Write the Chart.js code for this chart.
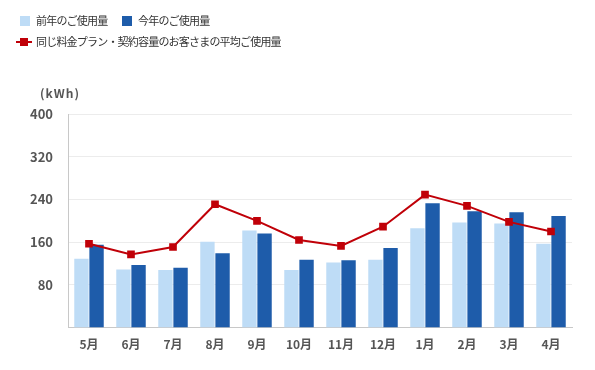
<!DOCTYPE html>
<html>
<head>
<meta charset="utf-8">
<script src="https://cdn.jsdelivr.net/npm/chart.js@4"></script>
<style>
  body { margin: 0; background: #fff; font-family: "Noto Sans CJK JP", sans-serif; }
  #wrap { position: relative; width: 595px; height: 370px; }
  #legend { position: absolute; left: 0; top: 0; font-size: 11px; color: #333; letter-spacing: -0.8px; }
  .item { position: absolute; white-space: nowrap; line-height: 12px; }
  .box { display: inline-block; width: 10px; height: 10px; vertical-align: -1px; margin-right: 6px; }
  .ln { display: inline-block; position: relative; width: 16px; height: 10px; vertical-align: -1px; margin-right: 4px; }
  .ln i { position: absolute; left: 0; right: 0; top: 4px; height: 2px; }
  .ln b { position: absolute; left: 4px; top: 1px; width: 8px; height: 8px; }
</style>
</head>
<body>
<div id="wrap">
  <canvas id="myChart" width="595" height="370"></canvas>
  <div id="legend"></div>
</div>
<script>
// data
var months = ["5月", "6月", "7月", "8月", "9月", "10月", "11月", "12月", "1月", "2月", "3月", "4月"];
var lastYear = [129, 109, 108, 161, 182, 108, 122, 127, 186, 197, 195, 157];
var thisYear = [155, 117, 112, 139, 176, 127, 126, 149, 233, 218, 216, 209];
var average = [157, 137, 151, 231, 200, 164, 153, 189, 249, 228, 198, 180];
var yTicks = [80, 160, 240, 320, 400];

var labelLast = "前年のご使用量";
var labelThis = "今年のご使用量";
var labelAvg = "同じ料金プラン・契約容量のお客さまの平均ご使用量";

var colLast = "#bedcf6";
var colThis = "#1e5caa";
var colAvg = "#c00008";

// legend
var legend = document.getElementById("legend");
legend.innerHTML =
  '<div class="item" style="left:20px;top:14px"><span class="box" style="background:' + colLast + '"></span>' + labelLast + '</div>' +
  '<div class="item" style="left:122px;top:14px"><span class="box" style="background:' + colThis + '"></span>' + labelThis + '</div>' +
  '<div class="item" style="left:16px;top:35px"><span class="ln"><i style="background:' + colAvg + '"></i><b style="background:' + colAvg + '"></b></span>' + labelAvg + '</div>';

// unit above the y axis
var unitLabel = {
  id: "unitLabel",
  afterDraw: function(chart) {
    var ctx = chart.ctx;
    ctx.save();
    ctx.font = "bold 12px 'Noto Sans CJK JP'";
    ctx.fillStyle = "#555";
    ctx.textAlign = "left";
    ctx.textBaseline = "middle";
    ctx.letterSpacing = "1px";
    ctx.fillText("(kWh)", 40, 93);
    ctx.restore();
  }
};

new Chart("myChart", {
  type: "bar",
  data: {
    labels: months,
    datasets: [{
      type: "line",
      label: labelAvg,
      data: average,
      borderColor: colAvg,
      backgroundColor: colAvg,
      borderWidth: 2,
      pointStyle: "rect",
      pointRadius: 4,
      pointHoverRadius: 4,
      tension: 0,
      fill: false,
      order: 0
    }, {
      label: labelLast,
      data: lastYear,
      backgroundColor: colLast,
      categoryPercentage: 0.72,
      barPercentage: 0.95,
      order: 1
    }, {
      label: labelThis,
      data: thisYear,
      backgroundColor: colThis,
      categoryPercentage: 0.72,
      barPercentage: 0.95,
      order: 1
    }]
  },
  options: {
    responsive: false,
    animation: false,
    layout: { padding: { top: 114, right: 23, bottom: 16, left: 0 } },
    plugins: { legend: { display: false }, tooltip: { enabled: false } },
    scales: {
      x: {
        grid: { display: false },
        border: { display: true, color: "#c8c8c8", width: 1 },
        ticks: { color: "#555", font: { family: "Noto Sans CJK JP", size: 12, weight: "bold" }, padding: 2 }
      },
      y: {
        min: 0,
        max: 400,
        afterBuildTicks: function(scale) {
          scale.ticks = yTicks.map(function(v) { return { value: v }; });
        },
        afterFit: function(scale) { scale.width = 68; },
        grid: { color: "#ececec", drawTicks: false },
        border: { display: true, color: "#c8c8c8", width: 1 },
        ticks: { color: "#555", padding: 15, font: { family: "Noto Sans CJK JP", size: 13, weight: "bold" } }
      }
    }
  },
  plugins: [unitLabel]
});
</script>
</body>
</html>
